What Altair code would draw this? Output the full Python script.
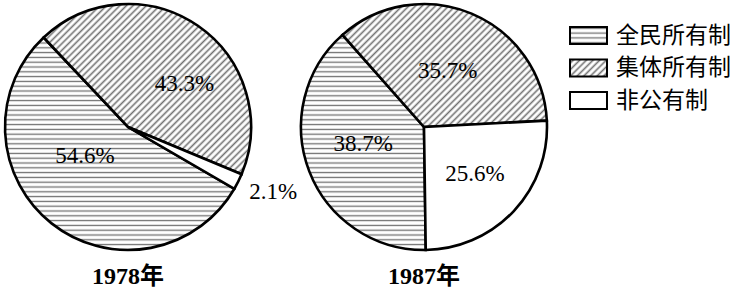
import math
import altair as alt
import pandas as pd
import jinja2

# ---- data ----
years = ["1978年", "1987年"]
categories = ["全民所有制", "集体所有制", "非公有制"]
share_1978 = [54.6, 43.3, 2.1]
share_1987 = [38.7, 35.7, 25.6]
clockwise_order = [2, 0, 1]  # 集体 first, then 非公, then 全民

# ---- style / layout ----
START_DEG = {"1978年": -43.3, "1987年": -41.5}
LABEL_PLACE = {  # (position along the pie in %, radius px) per category
    "1978年": ([77.6, 26.7, 43.7], [52, 71, 159]),
    "1987年": ([82.2, 17.9, 48.3], [63, 61, 69]),
}
VIEW = 248
RADIUS = 123
SERIF = "Liberation Serif"
TITLE_FONT = "Liberation Serif, Noto Sans CJK SC"
CJK = "Noto Sans CJK SC"

fill_scale = alt.Scale(domain=categories,
                       range=["url(#hatchH)", "url(#hatchD)", "#ffffff"])
legend = alt.Legend(
    title=None, orient="none", legendX=573, legendY=21,
    symbolType="M-2,-0.92H2V0.92H-2Z", symbolSize=342,
    symbolStrokeColor="black", symbolStrokeWidth=2,
    labelFont=CJK, labelFontSize=23, labelColor="black", labelOffset=16,
    rowPadding=5.5,
)


def pie(year, values):
    pos, rad = LABEL_PLACE[year]
    df = pd.DataFrame({
        "类型": categories,
        "占比": values,
        "顺序": clockwise_order,
        "标签": [f"{v}%" for v in values],
        "pos": pos,
        "r": rad,
    })
    s = math.radians(START_DEG[year])
    tscale = alt.Scale(domain=[0, 100], range=[s, s + 2 * math.pi])
    base = alt.Chart(df)
    arcs = base.mark_arc(radius=RADIUS, stroke="black", strokeWidth=2.6).encode(
        theta=alt.Theta("占比:Q", stack=True, scale=tscale),
        order=alt.Order("顺序:Q"),
        fill=alt.Fill("类型:N", scale=fill_scale, legend=legend),
    )
    labels = base.mark_text(font=SERIF, fontSize=23, color="black",
                            align="center", baseline="middle").encode(
        theta=alt.Theta("pos:Q", scale=tscale),
        radius=alt.Radius("r:Q", scale=None),
        text="标签:N",
    )
    return alt.layer(arcs, labels).properties(
        width=VIEW, height=VIEW,
        title=alt.TitleParams(year, orient="bottom", anchor="middle",
                              font=TITLE_FONT, fontSize=24, fontWeight="bold",
                              color="black", offset=10),
    )


chart = alt.hconcat(
    pie(years[0], share_1978), pie(years[1], share_1987),
    spacing=48, bounds="flush",
).properties(
    padding={"left": -1, "top": -2, "right": 0, "bottom": 0},
    background="white",
).configure_view(strokeWidth=0)

TEMPLATE = jinja2.Template("""<!DOCTYPE html>
<html>
<head>
<meta charset="utf-8">
<style>body{margin:0;padding:0;font-size:0;line-height:0}#{{ output_div }}{display:block}</style>
<script type="text/javascript" src="{{ base_url }}/vega@{{ vega_version }}"></script>
<script type="text/javascript" src="{{ base_url }}/vega-lite@{{ vegalite_version }}"></script>
<script type="text/javascript" src="{{ base_url }}/vega-embed@{{ vegaembed_version }}"></script>
</head>
<body><div id="{{ output_div }}"></div><svg width="0" height="0" style="position:absolute;left:0;top:0">
<defs>
<pattern id="hatchH" patternUnits="userSpaceOnUse" width="10" height="4.8">
<rect width="10" height="4.8" fill="#ffffff"/>
<line x1="0" y1="2.4" x2="10" y2="2.4" stroke="#707070" stroke-width="1.3"/>
</pattern>
<pattern id="hatchD" patternUnits="userSpaceOnUse" width="4.7" height="10" patternTransform="rotate(45)">
<rect width="4.7" height="10" fill="#ffffff"/>
<line x1="2.35" y1="0" x2="2.35" y2="10" stroke="#707070" stroke-width="1.6"/>
</pattern>
</defs>
</svg>
<script type="text/javascript">
  var spec = {{ spec }};
  var embedOpt = {{ embed_options }};
  vegaEmbed("#{{ output_div }}", spec, embedOpt).catch(console.error);
</script>
</body>
</html>
""")

chart.save("out.html", embed_options={"renderer": "svg", "actions": False},
           template=TEMPLATE)
